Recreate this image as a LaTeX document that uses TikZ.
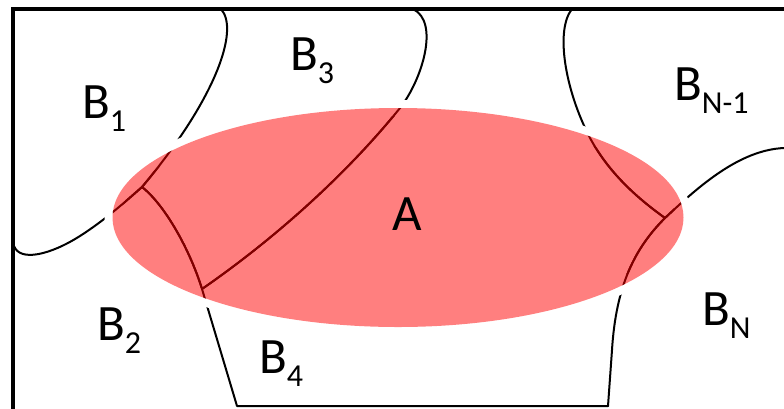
\documentclass[tikz,border=0pt]{standalone}
\usepackage{fontspec}
\setmainfont{Carlito}
\begin{document}
\begin{tikzpicture}[x=1pt,y=-1pt,
  bline/.style={line width=2pt, line cap=round, line join=round},
  lbl/.style={anchor=base west, inner sep=0pt, font=\fontsize{51}{51}\selectfont},
  lblc/.style={anchor=base, inner sep=0pt, font=\fontsize{51}{51}\selectfont}]
\newcommand\Bsub[1]{B\raisebox{-13pt}{\fontsize{32}{32}\selectfont #1}}
\newcommand\drawcurves{%
  % B1 | B3
  \draw[bline] (221,9) .. controls (240,30) and (215,100) .. (142,187);
  % B1 | B2
  \draw[bline] (14,246) .. controls (20,262) and (50,255) .. (80,236)
               .. controls (105,220) and (125,202) .. (142,187);
  % J1 - J2 - bottom
  \draw[bline] (142,187) .. controls (165,205) and (190,250) .. (202,289)
               -- (237,406) -- (608,406);
  % J2 - B3 | B_{N-1}
  \draw[bline] (202,289) .. controls (280,235) and (350,170) .. (400,108)
               .. controls (422,80) and (440,22) .. (413,9);
  % B_{N-1} left boundary
  \draw[bline] (572,9) .. controls (555,30) and (565,90) .. (590,138)
               .. controls (610,175) and (640,200) .. (665,218);
  % B_{N-1} | B_N and down to bottom
  \draw[bline] (784,148) .. controls (740,150) and (700,185) .. (665,218)
               .. controls (635,248) and (616,285) .. (612,350) -- (608,406);
}
\useasboundingbox (0,0) rectangle (784,408);
\fill[white] (0,0) rectangle (784,408);
% region boundaries
\drawcurves
% white halo around region A
\draw[white, line width=16pt] (398,217.5) ellipse [x radius=285.5, y radius=109.5];
\begin{scope}
  \clip (398,217.5) ellipse [x radius=285.5, y radius=109.5];
  \drawcurves
\end{scope}
% region A
\fill[red, fill opacity=0.5] (398,217.5) ellipse [x radius=285.5, y radius=109.5];
% frame
\draw[line width=4pt, line join=miter] (13,410) -- (13,8.7) -- (786,8.7);
% labels
\node[lbl] (b1) at (82,118) {\Bsub{1}};
\node[lbl] (b3) at (290,70) {\Bsub{3}};
\node[lbl] (b2) at (97,340) {\Bsub{2}};
\node[lbl] (b4) at (259,373) {\Bsub{4}};
\node[lbl] (bn1) at (674,100) {\Bsub{N-1}};
\node[lbl] (bn) at (702,325) {\Bsub{N}};
\node[lblc] (a) at (407.5,230) {A};
\end{tikzpicture}
\end{document}
